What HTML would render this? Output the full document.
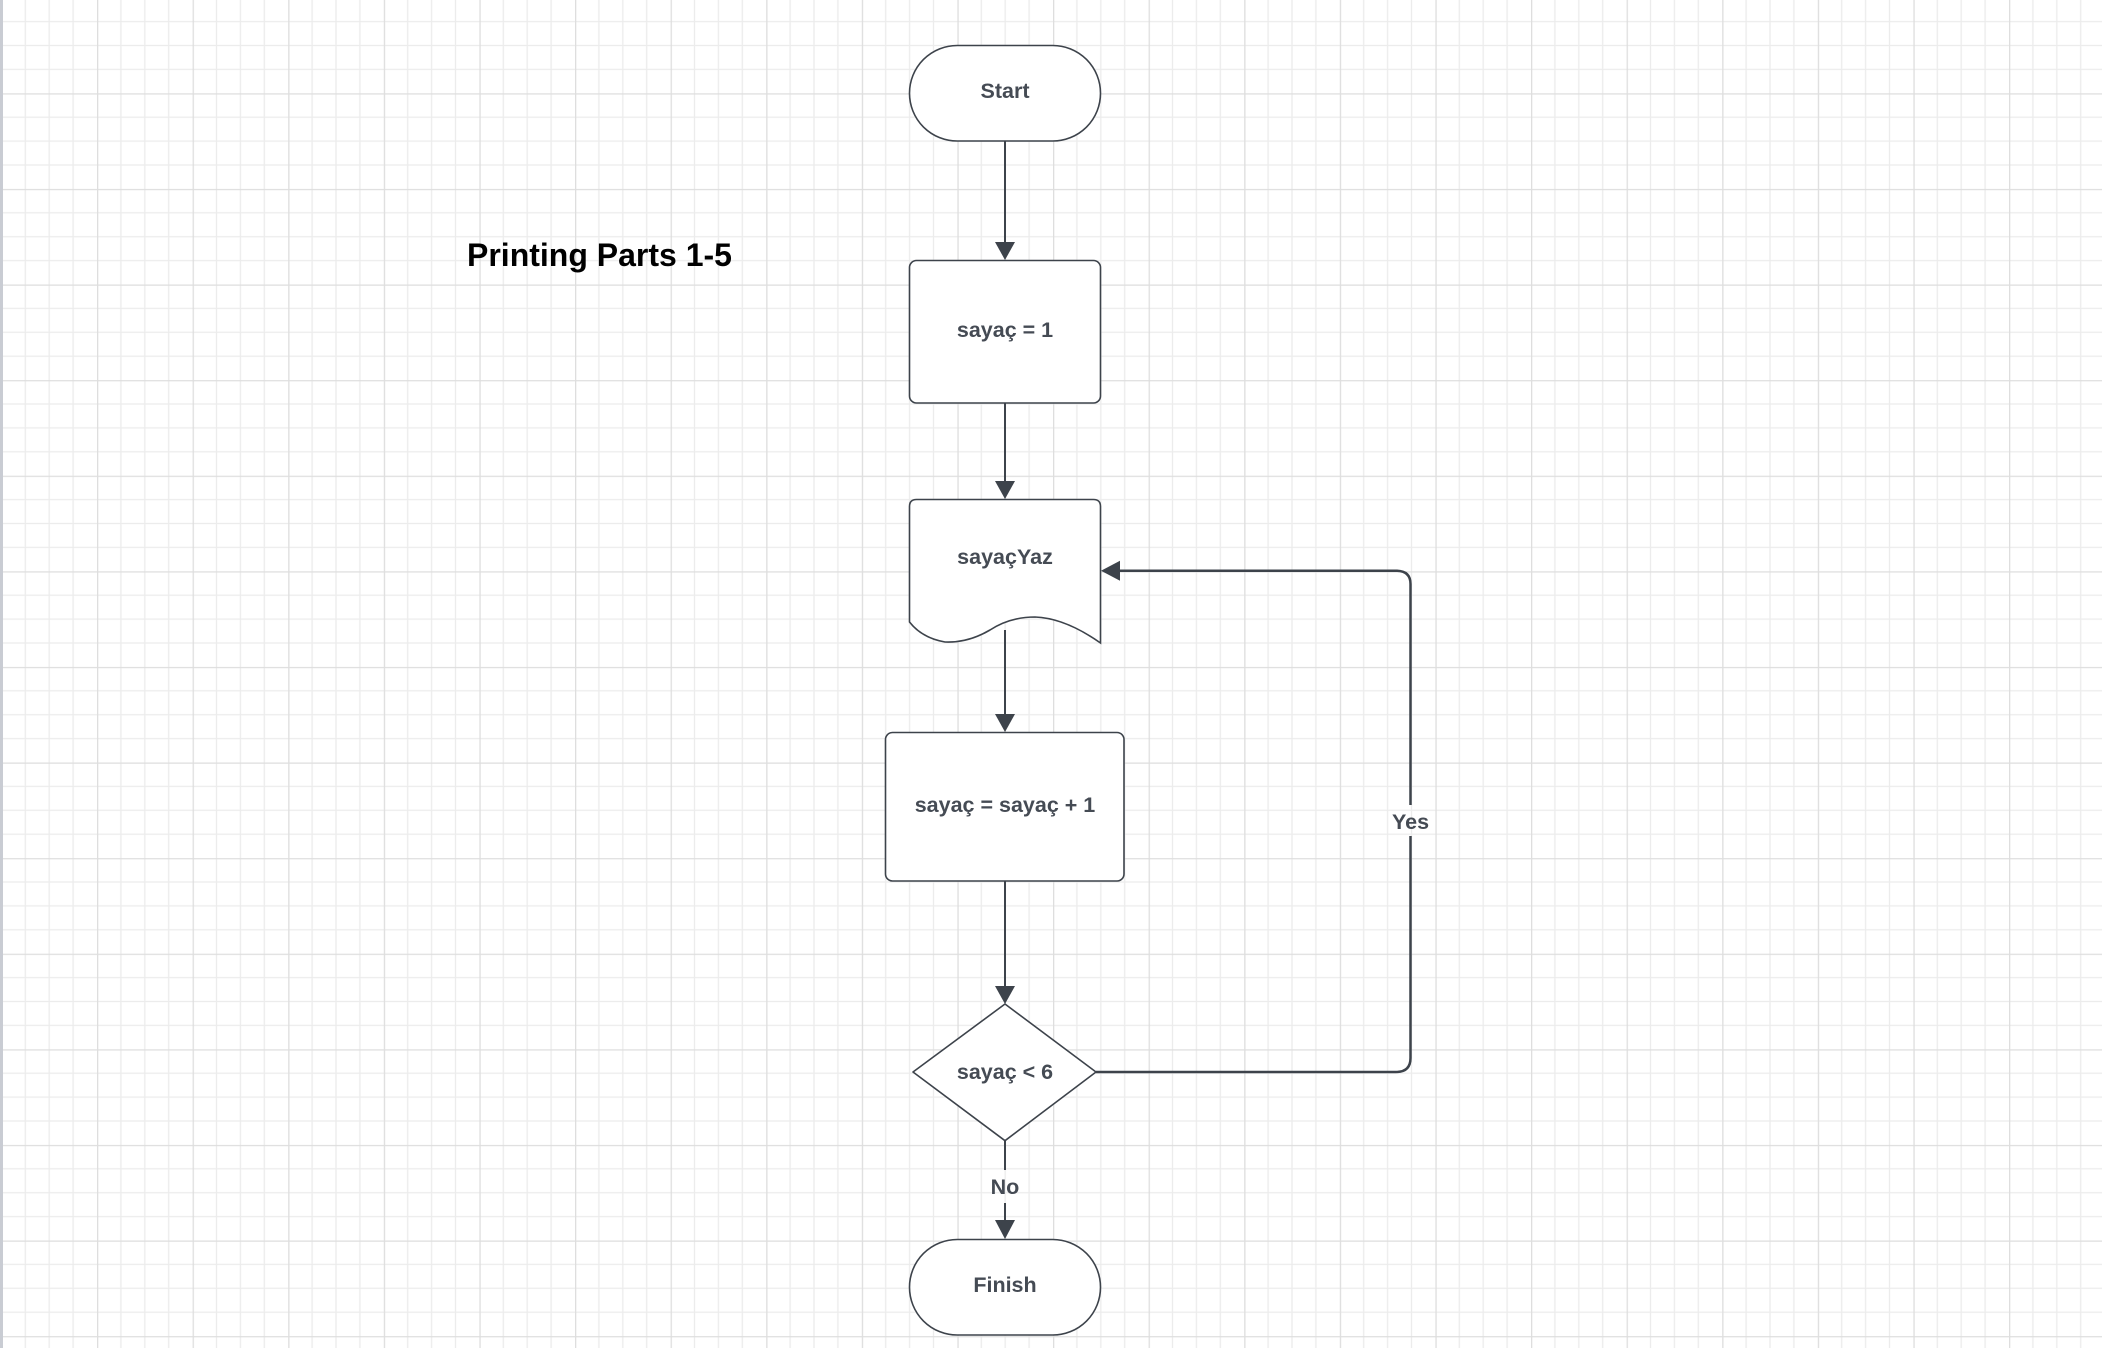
<!DOCTYPE html>
<html><head><meta charset="utf-8"><style>
html,body{margin:0;padding:0;background:#fff;}
svg{display:block;}
text{font-family:"Liberation Sans",Arial,sans-serif;font-weight:bold;}
</style></head><body>
<svg width="2102" height="1348" viewBox="0 0 2102 1348" xmlns="http://www.w3.org/2000/svg">
<defs>
<pattern id="g" x="1.4" y="-2.3" width="95.6" height="95.6" patternUnits="userSpaceOnUse">
<path d="M23.9 0V95.6M47.8 0V95.6M71.7 0V95.6M0 23.9H95.6M0 47.8H95.6M0 71.7H95.6" stroke="#ececec" stroke-width="1.3"/>
<path d="M0.5 0V95.6M0 0.5H95.6" stroke="#dedede" stroke-width="1.6"/>
</pattern>
</defs>
<rect width="2102" height="1348" fill="#fff"/>
<rect width="2102" height="1348" fill="url(#g)"/>
<rect x="0" y="0" width="3" height="1348" fill="#c9ccd3"/>

<text x="467" y="266" font-size="32" fill="#000">Printing Parts 1-5</text>

<g stroke="#3d434b" stroke-width="2" fill="none">
<line x1="1005" y1="141" x2="1005" y2="244"/>
<line x1="1005" y1="403" x2="1005" y2="483"/>
<line x1="1005" y1="630" x2="1005" y2="716"/>
<line x1="1005" y1="881" x2="1005" y2="988"/>
<line x1="1005" y1="1141" x2="1005" y2="1170"/>
<line x1="1005" y1="1203" x2="1005" y2="1222"/>
<path d="M1096 1072H1396Q1410.5 1072 1410.5 1058V836M1410.5 805V584Q1410.5 570.7 1396 570.7H1118" stroke-width="2.5"/>
</g>
<g fill="#3d434b">
<polygon points="995,242 1015,242 1005,260"/>
<polygon points="995,481 1015,481 1005,499"/>
<polygon points="995,714 1015,714 1005,732"/>
<polygon points="995,986 1015,986 1005,1004"/>
<polygon points="995,1220 1015,1220 1005,1239"/>
<polygon points="1120,560.7 1120,580.7 1101,570.7"/>
</g>

<g stroke="#3d434b" stroke-width="1.6" fill="#fff">
<rect x="909.5" y="45.5" width="191" height="95.5" rx="47.7"/>
<rect x="909.5" y="260.5" width="191" height="142.5" rx="7"/>
<path d="M916.5 499.5H1093.5Q1100.5 499.5 1100.5 506.5V643Q1065 618 1035 617Q1010 617 990 630Q968 643 945 642Q922 638 909.5 622V506.5Q909.5 499.5 916.5 499.5Z"/>
<rect x="885.5" y="732.5" width="238.5" height="148.5" rx="7"/>
<path d="M1005 1004L1096 1072L1005 1140.7L913 1072Z" stroke-linejoin="round"/>
<rect x="909.5" y="1239.5" width="191" height="95.5" rx="47.7"/>
</g>

<g font-size="21.5" fill="#454b54" text-anchor="middle">
<text x="1005" y="98">Start</text>
<text x="1005" y="337">sayaç = 1</text>
<text x="1005" y="564">sayaçYaz</text>
<text x="1005" y="812">sayaç = sayaç + 1</text>
<text x="1005" y="1079">sayaç &lt; 6</text>
<text x="1005" y="1194">No</text>
<text x="1410.5" y="829">Yes</text>
<text x="1005" y="1292">Finish</text>
</g>
</svg>
</body></html>
